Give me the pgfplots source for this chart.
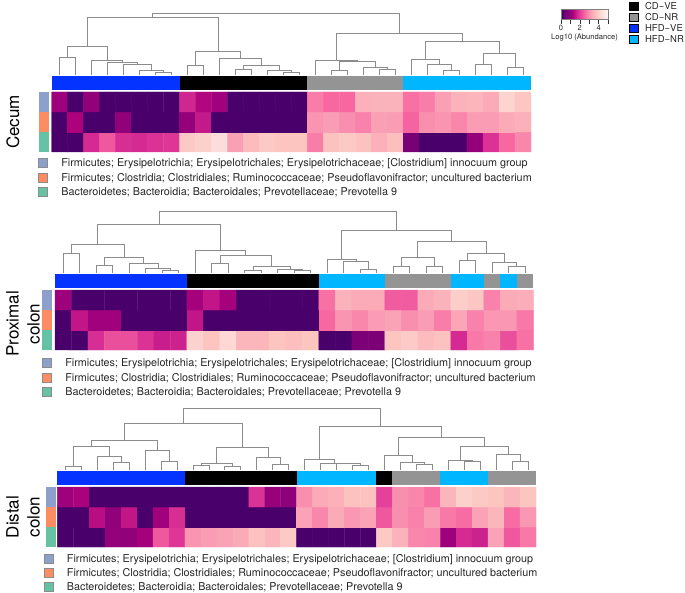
\documentclass[border=0pt]{standalone}
\usepackage{fontspec}
\setmainfont{TeX Gyre Heros}
\usepackage{pgfplots}
\pgfplotsset{compat=1.18}

\definecolor{cdve}{RGB}{0,0,0}
\definecolor{cdnr}{RGB}{148,148,148}
\definecolor{hfdve}{RGB}{4,51,255}
\definecolor{hfdnr}{RGB}{0,182,255}
\definecolor{annotA}{RGB}{141,160,203}
\definecolor{annotB}{RGB}{252,141,98}
\definecolor{annotC}{RGB}{102,194,165}

\pgfplotsset{
  colormap={rdpu}{rgb255=(73,0,106) rgb255=(122,1,119) rgb255=(174,1,126)
    rgb255=(221,52,151) rgb255=(247,104,161) rgb255=(250,159,181)
    rgb255=(252,197,192) rgb255=(253,224,221) rgb255=(255,247,243)},
  heat/.style={hide axis, clip=false, y=20pt, xmin=-0.5, ymin=-0.5, ymax=2.5,
    colormap name=rdpu, point meta min=0, point meta max=5, anchor=south west},
  dendro/.style={hide axis, clip=false, y=1pt, xmin=-0.5, ymin=0, ymax=62,
    anchor=south west},
  dline/.style={black!45, line width=0.75pt, unbounded coords=jump, forget plot, mark=none},
  seg/.style={draw=none, forget plot, mark=none},
  taxlegend/.style={legend cell align=left,
    legend image code/.code={\draw[##1] (0pt,-4.5pt) rectangle (9pt,4.5pt);},
    legend style={anchor=north west, draw=none, fill=none, inner sep=0pt, outer sep=0pt,
      row sep=4.83pt, font=\fontsize{10.8}{12}\selectfont, text=black!85,
      nodes={inner sep=0pt, text height=8.6pt, text depth=0.87pt},
      /tikz/every odd column/.append style={column sep=14pt}}},
  grouplegend/.style={legend cell align=left,
    legend image code/.code={\fill[##1] (0pt,-4.25pt) rectangle (8.7pt,4.25pt);},
    legend style={anchor=north west, draw=none, fill=none, inner sep=0pt, outer sep=0pt,
      row sep=2.17pt, font=\fontsize{9.5}{10}\selectfont, text=black!85,
      nodes={inner sep=0pt, text height=7.65pt, text depth=0.85pt},
      /tikz/every odd column/.append style={column sep=7pt}}},
}

\begin{document}
\begin{tikzpicture}
\useasboundingbox (0pt,0pt) rectangle (685pt,592pt);

% ---------------- Cecum ----------------
\begin{axis}[dendro, at={(51.7pt,517pt)}, x=15.977pt, xmax=29.5,
  grouplegend, legend style={at={(1.2045,1.1823)}}]
\addplot[dline] coordinates {
(6,0) (6,3) (7,3) (7,0) (nan,nan)
(5,0) (5,5) (6.5,5) (6.5,3) (nan,nan)
(4,0) (4,10.3) (5.75,10.3) (5.75,5) (nan,nan)
(3,0) (3,12.7) (4.875,12.7) (4.875,10.3) (nan,nan)
(2,0) (2,14.3) (3.9375,14.3) (3.9375,12.7) (nan,nan)
(0,0) (0,17.7) (1,17.7) (1,0) (nan,nan)
(0.5,17.7) (0.5,28.7) (2.969,28.7) (2.969,14.3) (nan,nan)
(8,0) (8,9.3) (9,9.3) (9,0) (nan,nan)
(14,0) (14,2.3) (15,2.3) (15,0) (nan,nan)
(13,0) (13,4.3) (14.5,4.3) (14.5,2.3) (nan,nan)
(11,0) (11,5.7) (12,5.7) (12,0) (nan,nan)
(11.5,5.7) (11.5,9.3) (13.75,9.3) (13.75,4.3) (nan,nan)
(10,0) (10,16.7) (12.625,16.7) (12.625,9.3) (nan,nan)
(8.5,9.3) (8.5,23.3) (11.3125,23.3) (11.3125,16.7) (nan,nan)
(1.734,28.7) (1.734,57.7) (9.906,57.7) (9.906,23.3) (nan,nan)
(17,0) (17,4.3) (18,4.3) (18,0) (nan,nan)
(20,0) (20,5.7) (21,5.7) (21,0) (nan,nan)
(19,0) (19,7.3) (20.5,7.3) (20.5,5.7) (nan,nan)
(17.5,4.3) (17.5,13.7) (19.75,13.7) (19.75,7.3) (nan,nan)
(16,0) (16,15) (18.625,15) (18.625,13.7) (nan,nan)
(24,0) (24,5) (25,5) (25,0) (nan,nan)
(23,0) (23,10.3) (24.5,10.3) (24.5,5) (nan,nan)
(22,0) (22,15.3) (23.75,15.3) (23.75,10.3) (nan,nan)
(26,0) (26,11) (27,11) (27,0) (nan,nan)
(28,0) (28,7.7) (29,7.7) (29,0) (nan,nan)
(26.5,11) (26.5,21.7) (28.5,21.7) (28.5,7.7) (nan,nan)
(22.875,15.3) (22.875,33.7) (27.5,33.7) (27.5,21.7) (nan,nan)
(17.3125,15) (17.3125,42) (25.1875,42) (25.1875,33.7) (nan,nan)
(5.82,57.7) (5.82,62) (21.25,62) (21.25,42)
};
\addlegendimage{fill=cdve}\addlegendentry{CD−VE}
\addlegendimage{fill=cdnr}\addlegendentry{CD−NR}
\addlegendimage{fill=hfdve}\addlegendentry{HFD−VE}
\addlegendimage{fill=hfdnr}\addlegendentry{HFD−NR}
\end{axis}

\begin{axis}[heat, at={(51.7pt,440pt)}, x=15.977pt, xmax=29.5,
  taxlegend, legend style={at={(-0.0286,-0.105)}},
  colorbar horizontal,
  colorbar style={at={(parent axis.south west)}, anchor=south west,
    xshift=509.3pt, yshift=141pt, scale only axis, width=47pt, height=10pt,
    xtick={0,1,2,3,4,5}, xticklabels={0,,2,,4,}, xtick pos=left,
    tick align=outside, major tick length=4pt,
    tick style={black!80, line width=0.5pt},
    axis line style={black!50, line width=0.4pt},
    xticklabel style={font=\fontsize{7.5}{8}\selectfont, text=black!85, yshift=1.5pt},
    xlabel={Log10 (Abundance)},
    xlabel style={font=\fontsize{7.6}{8}\selectfont, text=black!85, yshift=3.5pt}}]
\addplot[matrix plot*, mesh/cols=30, point meta=explicit, forget plot] coordinates {
(0,0)[0] (1,0)[0] (2,0)[1.75] (3,0)[2.3] (4,0)[1.8] (5,0)[1.75] (6,0)[1.85] (7,0)[1.9] (8,0)[3.85] (9,0)[4.0] (10,0)[4.3] (11,0)[3.15] (12,0)[3.6] (13,0)[3.85] (14,0)[3.75] (15,0)[3.75] (16,0)[2.75] (17,0)[3.7] (18,0)[3.85] (19,0)[3.7] (20,0)[3.4] (21,0)[3.65] (22,0)[0.6] (23,0)[0] (24,0)[0] (25,0)[0] (26,0)[0.95] (27,0)[1.85] (28,0)[2.5] (29,0)[2.85]
(0,1)[0] (1,1)[1.25] (2,1)[0] (3,1)[0] (4,1)[0.9] (5,1)[0] (6,1)[0] (7,1)[0] (8,1)[0.95] (9,1)[1.55] (10,1)[0] (11,1)[0] (12,1)[0] (13,1)[0] (14,1)[0] (15,1)[0] (16,1)[3.0] (17,1)[3.1] (18,1)[2.95] (19,1)[2.8] (20,1)[3.15] (21,1)[3.1] (22,1)[2.45] (23,1)[2.95] (24,1)[3.0] (25,1)[2.85] (26,1)[3.1] (27,1)[3.1] (28,1)[3.3] (29,1)[3.4]
(0,2)[1.05] (1,2)[0] (2,2)[0.9] (3,2)[0] (4,2)[0] (5,2)[0] (6,2)[0] (7,2)[0] (8,2)[1.7] (9,2)[1.3] (10,2)[1.1] (11,2)[0] (12,2)[0] (13,2)[0] (14,2)[0] (15,2)[0] (16,2)[2.75] (17,2)[2.5] (18,2)[2.5] (19,2)[3.4] (20,2)[3.45] (21,2)[3.45] (22,2)[2.6] (23,2)[2.75] (24,2)[3.15] (25,2)[3.45] (26,2)[3.5] (27,2)[3.3] (28,2)[4.1] (29,2)[3.8]
};
% group bar
\addplot[seg, fill=hfdve] coordinates {(-0.5,2.6) (7.5,2.6) (7.5,3.3) (-0.5,3.3)};
\addplot[seg, fill=cdve] coordinates {(7.5,2.6) (15.5,2.6) (15.5,3.3) (7.5,3.3)};
\addplot[seg, fill=cdnr] coordinates {(15.5,2.6) (21.5,2.6) (21.5,3.3) (15.5,3.3)};
\addplot[seg, fill=hfdnr] coordinates {(21.5,2.6) (29.5,2.6) (29.5,3.3) (21.5,3.3)};
% row annotation
\addplot[seg, fill=annotA] coordinates {(-1.295,1.52) (-0.669,1.52) (-0.669,2.5) (-1.295,2.5)};
\addplot[seg, fill=annotB] coordinates {(-1.295,0.52) (-0.669,0.52) (-0.669,1.48) (-1.295,1.48)};
\addplot[seg, fill=annotC] coordinates {(-1.295,-0.5) (-0.669,-0.5) (-0.669,0.48) (-1.295,0.48)};
\addlegendimage{fill=annotA, draw=black!45, line width=0.4pt}
\addlegendentry{Firmicutes; Erysipelotrichia; Erysipelotrichales; Erysipelotrichaceae; [Clostridium] innocuum group}
\addlegendimage{fill=annotB, draw=black!45, line width=0.4pt}
\addlegendentry{Firmicutes; Clostridia; Clostridiales; Ruminococcaceae; Pseudoflavonifractor; uncultured bacterium}
\addlegendimage{fill=annotC, draw=black!45, line width=0.4pt}
\addlegendentry{Bacteroidetes; Bacteroidia; Bacteroidales; Prevotellaceae; Prevotella 9}
\end{axis}

% ---------------- Proximal colon ----------------
\begin{axis}[dendro, at={(55pt,319pt)}, x=16.493pt, xmax=28.5]
\addplot[dline] coordinates {
(6,0) (6,2.7) (7,2.7) (7,0) (nan,nan)
(5,0) (5,5) (6.5,5) (6.5,2.7) (nan,nan)
(4,0) (4,9.7) (5.75,9.7) (5.75,5) (nan,nan)
(2,0) (2,7.3) (3,7.3) (3,0) (nan,nan)
(2.5,7.3) (2.5,15.7) (4.875,15.7) (4.875,9.7) (nan,nan)
(0,0) (0,19.7) (1,19.7) (1,0) (nan,nan)
(0.5,19.7) (0.5,29) (3.6875,29) (3.6875,15.7) (nan,nan)
(9,0) (9,9.7) (10,9.7) (10,0) (nan,nan)
(11,0) (11,3) (12,3) (12,0) (nan,nan)
(14,0) (14,3) (15,3) (15,0) (nan,nan)
(13,0) (13,4) (14.5,4) (14.5,3) (nan,nan)
(11.5,3) (11.5,6.3) (13.75,6.3) (13.75,4) (nan,nan)
(9.5,9.7) (9.5,17.3) (12.625,17.3) (12.625,6.3) (nan,nan)
(8,0) (8,23) (11.0625,23) (11.0625,17.3) (nan,nan)
(2.094,29) (2.094,49) (9.53,49) (9.53,23) (nan,nan)
(18,0) (18,4) (19,4) (19,0) (nan,nan)
(17,0) (17,11.3) (18.5,11.3) (18.5,4) (nan,nan)
(16,0) (16,14) (17.75,14) (17.75,11.3) (nan,nan)
(20,0) (20,6.7) (21,6.7) (21,0) (nan,nan)
(22,0) (22,6.7) (23,6.7) (23,0) (nan,nan)
(20.5,6.7) (20.5,15.7) (22.5,15.7) (22.5,6.7) (nan,nan)
(24,0) (24,12.3) (25,12.3) (25,0) (nan,nan)
(27,0) (27,6.7) (28,6.7) (28,0) (nan,nan)
(26,0) (26,10.7) (27.5,10.7) (27.5,6.7) (nan,nan)
(24.5,12.3) (24.5,20) (26.75,20) (26.75,10.7) (nan,nan)
(21.5,15.7) (21.5,31.7) (25.625,31.7) (25.625,20) (nan,nan)
(16.875,14) (16.875,43) (23.5625,43) (23.5625,31.7) (nan,nan)
(5.81,49) (5.81,61.3) (20.22,61.3) (20.22,43)
};
\end{axis}

\begin{axis}[heat, at={(55pt,242pt)}, x=16.493pt, xmax=28.5,
  taxlegend, legend style={at={(-0.0272,-0.138)}}]
\addplot[matrix plot*, mesh/cols=29, point meta=explicit, forget plot] coordinates {
(0,0)[0] (1,0)[0] (2,0)[1.8] (3,0)[2.2] (4,0)[2.2] (5,0)[1.85] (6,0)[1.6] (7,0)[1.65] (8,0)[4.05] (9,0)[3.75] (10,0)[4.2] (11,0)[3.5] (12,0)[3.5] (13,0)[3.75] (14,0)[3.65] (15,0)[3.75] (16,0)[0] (17,0)[0] (18,0)[0.65] (19,0)[0.65] (20,0)[3.75] (21,0)[3.9] (22,0)[3.6] (23,0)[3.7] (24,0)[1.75] (25,0)[2.7] (26,0)[2.8] (27,0)[2.2] (28,0)[2.6]
(0,1)[0] (1,1)[1.5] (2,1)[1.1] (3,1)[1.1] (4,1)[0] (5,1)[0] (6,1)[0] (7,1)[0] (8,1)[1.5] (9,1)[0] (10,1)[0] (11,1)[0] (12,1)[0] (13,1)[0] (14,1)[0] (15,1)[0] (16,1)[2.5] (17,1)[3.0] (18,1)[2.85] (19,1)[3.1] (20,1)[3.2] (21,1)[2.95] (22,1)[3.1] (23,1)[2.75] (24,1)[3.25] (25,1)[2.8] (26,1)[3.05] (27,1)[3.05] (28,1)[2.7]
(0,2)[1.05] (1,2)[0] (2,2)[0] (3,2)[0] (4,2)[0] (5,2)[0] (6,2)[0] (7,2)[0] (8,2)[1.15] (9,2)[1.5] (10,2)[1.15] (11,2)[0] (12,2)[0] (13,2)[0] (14,2)[0] (15,2)[0] (16,2)[2.6] (17,2)[3.45] (18,2)[3.3] (19,2)[3.3] (20,2)[2.35] (21,2)[2.35] (22,2)[3.3] (23,2)[3.45] (24,2)[3.95] (25,2)[3.8] (26,2)[2.8] (27,2)[3.3] (28,2)[3.35]
};
\addplot[seg, fill=hfdve] coordinates {(-0.5,2.6) (7.5,2.6) (7.5,3.3) (-0.5,3.3)};
\addplot[seg, fill=cdve] coordinates {(7.5,2.6) (15.5,2.6) (15.5,3.3) (7.5,3.3)};
\addplot[seg, fill=hfdnr] coordinates {(15.5,2.6) (19.5,2.6) (19.5,3.3) (15.5,3.3)};
\addplot[seg, fill=cdnr] coordinates {(19.5,2.6) (23.5,2.6) (23.5,3.3) (19.5,3.3)};
\addplot[seg, fill=hfdnr] coordinates {(23.5,2.6) (25.5,2.6) (25.5,3.3) (23.5,3.3)};
\addplot[seg, fill=cdnr] coordinates {(25.5,2.6) (26.5,2.6) (26.5,3.3) (25.5,3.3)};
\addplot[seg, fill=hfdnr] coordinates {(26.5,2.6) (27.5,2.6) (27.5,3.3) (26.5,3.3)};
\addplot[seg, fill=cdnr] coordinates {(27.5,2.6) (28.5,2.6) (28.5,3.3) (27.5,3.3)};
\addplot[seg, fill=annotA] coordinates {(-1.27,1.52) (-0.664,1.52) (-0.664,2.5) (-1.27,2.5)};
\addplot[seg, fill=annotB] coordinates {(-1.27,0.52) (-0.664,0.52) (-0.664,1.48) (-1.27,1.48)};
\addplot[seg, fill=annotC] coordinates {(-1.27,-0.5) (-0.664,-0.5) (-0.664,0.48) (-1.27,0.48)};
\addlegendimage{fill=annotA, draw=black!45, line width=0.4pt}
\addlegendentry{Firmicutes; Erysipelotrichia; Erysipelotrichales; Erysipelotrichaceae; [Clostridium] innocuum group}
\addlegendimage{fill=annotB, draw=black!45, line width=0.4pt}
\addlegendentry{Firmicutes; Clostridia; Clostridiales; Ruminococcaceae; Pseudoflavonifractor; uncultured bacterium}
\addlegendimage{fill=annotC, draw=black!45, line width=0.4pt}
\addlegendentry{Bacteroidetes; Bacteroidia; Bacteroidales; Prevotellaceae; Prevotella 9}
\end{axis}

% ---------------- Distal colon ----------------
\begin{axis}[dendro, at={(57.3pt,122pt)}, x=15.957pt, xmax=29.5]
\addplot[dline] coordinates {
(0,0) (0,3.3) (1,3.3) (1,0) (nan,nan)
(3,0) (3,7.7) (4,7.7) (4,0) (nan,nan)
(2,0) (2,13.7) (3.5,13.7) (3.5,7.7) (nan,nan)
(0.5,3.3) (0.5,23.3) (2.75,23.3) (2.75,13.7) (nan,nan)
(6,0) (6,8.7) (7,8.7) (7,0) (nan,nan)
(5,0) (5,19.3) (6.5,19.3) (6.5,8.7) (nan,nan)
(1.625,23.3) (1.625,29.3) (5.75,29.3) (5.75,19.3) (nan,nan)
(8,0) (8,4.3) (9,4.3) (9,0) (nan,nan)
(10,0) (10,3.7) (11,3.7) (11,0) (nan,nan)
(8.5,4.3) (8.5,6.7) (10.5,6.7) (10.5,3.7) (nan,nan)
(13,0) (13,6) (14,6) (14,0) (nan,nan)
(12,0) (12,12.7) (13.5,12.7) (13.5,6) (nan,nan)
(9.5,6.7) (9.5,22.7) (12.75,22.7) (12.75,12.7) (nan,nan)
(3.6875,29.3) (3.6875,46.7) (11.125,46.7) (11.125,22.7) (nan,nan)
(18,0) (18,4.3) (19,4.3) (19,0) (nan,nan)
(17,0) (17,6.3) (18.5,6.3) (18.5,4.3) (nan,nan)
(16,0) (16,7) (17.75,7) (17.75,6.3) (nan,nan)
(15,0) (15,10.3) (16.875,10.3) (16.875,7) (nan,nan)
(22,0) (22,6) (23,6) (23,0) (nan,nan)
(21,0) (21,7.7) (22.5,7.7) (22.5,6) (nan,nan)
(20,0) (20,15) (21.75,15) (21.75,7.7) (nan,nan)
(25,0) (25,8.3) (26,8.3) (26,0) (nan,nan)
(24,0) (24,9.3) (25.5,9.3) (25.5,8.3) (nan,nan)
(28,0) (28,8.3) (29,8.3) (29,0) (nan,nan)
(27,0) (27,16) (28.5,16) (28.5,8.3) (nan,nan)
(24.75,9.3) (24.75,23.3) (27.75,23.3) (27.75,16) (nan,nan)
(20.875,15) (20.875,32.7) (26.25,32.7) (26.25,23.3) (nan,nan)
(15.9375,10.3) (15.9375,43.7) (23.5625,43.7) (23.5625,32.7) (nan,nan)
(7.406,46.7) (7.406,61.3) (19.75,61.3) (19.75,43.7)
};
\end{axis}

\begin{axis}[heat, at={(57.3pt,45pt)}, x=15.957pt, xmax=29.5,
  taxlegend, legend style={at={(-0.0288,-0.11)}}]
\addplot[matrix plot*, mesh/cols=30, point meta=explicit, forget plot] coordinates {
(0,0)[0] (1,0)[0] (2,0)[0] (3,0)[0.95] (4,0)[0.9] (5,0)[1.15] (6,0)[2.3] (7,0)[1.9] (8,0)[3.0] (9,0)[3.1] (10,0)[3.2] (11,0)[3.3] (12,0)[3.7] (13,0)[3.5] (14,0)[3.85] (15,0)[0] (16,0)[0] (17,0)[0] (18,0)[0] (19,0)[0] (20,0)[3.85] (21,0)[3.45] (22,0)[2.85] (23,0)[2.8] (24,0)[1.05] (25,0)[1.75] (26,0)[1.65] (27,0)[3.2] (28,0)[2.3] (29,0)[2.7]
(0,1)[0] (1,1)[0] (2,1)[1.4] (3,1)[0.9] (4,1)[1.5] (5,1)[0] (6,1)[1.1] (7,1)[1.8] (8,1)[0] (9,1)[0] (10,1)[0] (11,1)[0] (12,1)[0] (13,1)[0] (14,1)[0] (15,1)[3.2] (16,1)[2.85] (17,1)[3.3] (18,1)[3.05] (19,1)[3.2] (20,1)[2.3] (21,1)[2.95] (22,1)[2.8] (23,1)[3.1] (24,1)[2.7] (25,1)[2.55] (26,1)[3.2] (27,1)[3.5] (28,1)[2.55] (29,1)[3.05]
(0,2)[1.05] (1,2)[1.2] (2,2)[0] (3,2)[0] (4,2)[0] (5,2)[0] (6,2)[0] (7,2)[0] (8,2)[0] (9,2)[0] (10,2)[0] (11,2)[0] (12,2)[1.85] (13,2)[1.0] (14,2)[0.85] (15,2)[2.95] (16,2)[3.3] (17,2)[3.4] (18,2)[3.7] (19,2)[3.7] (20,2)[2.05] (21,2)[2.95] (22,2)[2.85] (23,2)[2.6] (24,2)[3.5] (25,2)[4.0] (26,2)[3.85] (27,2)[3.75] (28,2)[3.5] (29,2)[3.75]
};
\addplot[seg, fill=hfdve] coordinates {(-0.5,2.6) (7.5,2.6) (7.5,3.3) (-0.5,3.3)};
\addplot[seg, fill=cdve] coordinates {(7.5,2.6) (14.5,2.6) (14.5,3.3) (7.5,3.3)};
\addplot[seg, fill=hfdnr] coordinates {(14.5,2.6) (19.5,2.6) (19.5,3.3) (14.5,3.3)};
\addplot[seg, fill=cdve] coordinates {(19.5,2.6) (20.5,2.6) (20.5,3.3) (19.5,3.3)};
\addplot[seg, fill=cdnr] coordinates {(20.5,2.6) (23.5,2.6) (23.5,3.3) (20.5,3.3)};
\addplot[seg, fill=hfdnr] coordinates {(23.5,2.6) (26.5,2.6) (26.5,3.3) (23.5,3.3)};
\addplot[seg, fill=cdnr] coordinates {(26.5,2.6) (29.5,2.6) (29.5,3.3) (26.5,3.3)};
\addplot[seg, fill=annotA] coordinates {(-1.227,1.52) (-0.6,1.52) (-0.6,2.5) (-1.227,2.5)};
\addplot[seg, fill=annotB] coordinates {(-1.227,0.52) (-0.6,0.52) (-0.6,1.48) (-1.227,1.48)};
\addplot[seg, fill=annotC] coordinates {(-1.227,-0.5) (-0.6,-0.5) (-0.6,0.48) (-1.227,0.48)};
\addlegendimage{fill=annotA, draw=black!45, line width=0.4pt}
\addlegendentry{Firmicutes; Erysipelotrichia; Erysipelotrichales; Erysipelotrichaceae; [Clostridium] innocuum group}
\addlegendimage{fill=annotB, draw=black!45, line width=0.4pt}
\addlegendentry{Firmicutes; Clostridia; Clostridiales; Ruminococcaceae; Pseudoflavonifractor; uncultured bacterium}
\addlegendimage{fill=annotC, draw=black!45, line width=0.4pt}
\addlegendentry{Bacteroidetes; Bacteroidia; Bacteroidales; Prevotellaceae; Prevotella 9}
\end{axis}

% panel labels
\node[rotate=90, anchor=base, font=\fontsize{17}{20}\selectfont] at (19pt,470pt) {Cecum};
\node[rotate=90, anchor=base, font=\fontsize{17}{20}\selectfont] at (18.5pt,268pt) {Proximal};
\node[rotate=90, anchor=base, font=\fontsize{17}{20}\selectfont] at (39.5pt,268pt) {colon};
\node[rotate=90, anchor=base, font=\fontsize{17}{20}\selectfont] at (18.5pt,75pt) {Distal};
\node[rotate=90, anchor=base, font=\fontsize{17}{20}\selectfont] at (39.5pt,75pt) {colon};
\end{tikzpicture}
\end{document}
